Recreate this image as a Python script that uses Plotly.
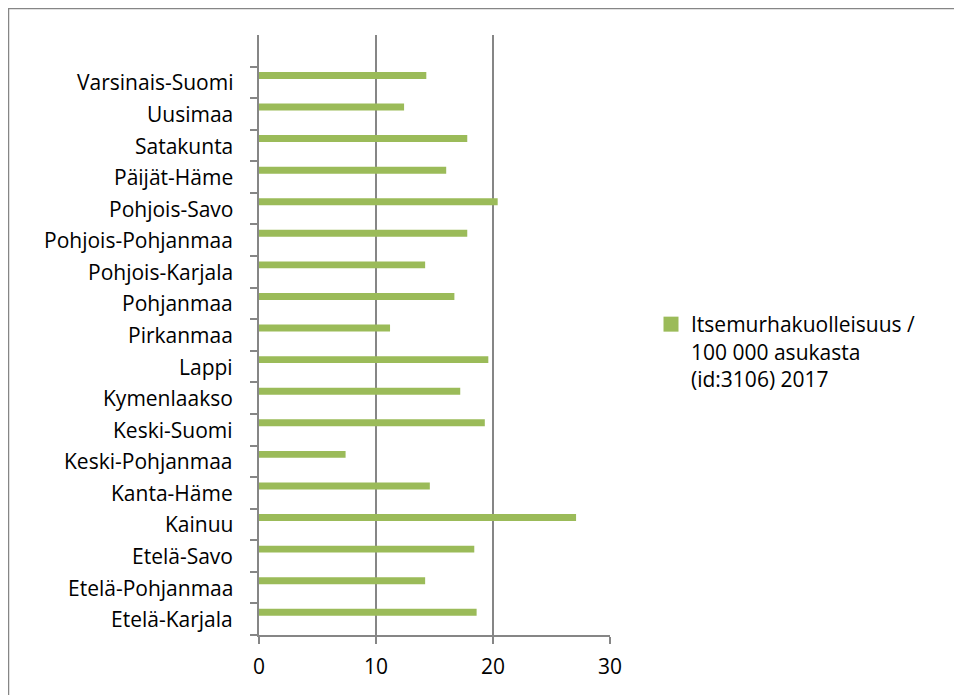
import plotly.graph_objects as go

regions = ["Etelä-Karjala", "Etelä-Pohjanmaa", "Etelä-Savo", "Kainuu", "Kanta-Häme",
           "Keski-Pohjanmaa", "Keski-Suomi", "Kymenlaakso", "Lappi", "Pirkanmaa",
           "Pohjanmaa", "Pohjois-Karjala", "Pohjois-Pohjanmaa", "Pohjois-Savo",
           "Päijät-Häme", "Satakunta", "Uusimaa", "Varsinais-Suomi"]
values = [18.6, 14.2, 18.4, 27.1, 14.6, 7.4, 19.3, 17.2, 19.6, 11.2,
          16.7, 14.2, 17.8, 20.4, 16.0, 17.8, 12.4, 14.3]
series_name = "Itsemurhakuolleisuus /<br>100 000 asukasta<br>(id:3106) 2017"
x_ticks = [0, 10, 20, 30]

GRID = "#868686"
BAR = "#9BBB59"
FONT = "Open Sans"
FS = 21

# plot area in figure pixels
L, T, PW, PH = 251, 27, 351, 600
W, H = 962, 695

fig = go.Figure()
fig.add_trace(go.Bar(
    y=regions, x=values, orientation="h", name=series_name,
    marker=dict(color=BAR, line=dict(width=0)),
    width=0.22, offset=0.11, showlegend=False,
))
# legend entry (larger square swatch as in the original)
fig.add_trace(go.Scatter(
    x=[None], y=[None], mode="markers", name=series_name,
    marker=dict(symbol="square", size=15, color=BAR), showlegend=True,
))

fig.update_layout(
    width=W, height=H,
    margin=dict(l=L, r=W - L - PW, t=T, b=H - T - PH),
    paper_bgcolor="white", plot_bgcolor="white",
    font=dict(family=FONT, size=FS, color="black"),
    showlegend=True,
    legend=dict(x=(643 - L) / PW, y=(T + PH - 296) / PH, xanchor="left", yanchor="top",
                font=dict(family=FONT, size=FS, color="black"),
                bgcolor="rgba(0,0,0,0)", itemwidth=30, valign="top"),
    xaxis=dict(range=[0, 30], tickvals=x_ticks, ticktext=[str(v) for v in x_ticks],
               showgrid=True, gridcolor=GRID, gridwidth=1.5,
               showline=True, linecolor=GRID, linewidth=1.5,
               ticks="outside", ticklen=7, tickcolor=GRID, tickwidth=1.5,
               ticklabelstandoff=5,
               zeroline=False, tickfont=dict(family=FONT, size=FS), fixedrange=True),
    yaxis=dict(categoryorder="array", categoryarray=regions,
               range=[-0.5, 18.5], showgrid=False,
               showline=True, linecolor=GRID, linewidth=1.5,
               ticks="outside", ticklen=7, tickcolor=GRID, tickwidth=1.5,
               tickmode="array", tickvals=[i - 0.5 for i in range(19)],
               ticktext=[""] * 19, zeroline=False),
)

# category labels centred on each category
for r in regions:
    fig.add_annotation(x=0, y=r, xref="paper", yref="y", text=r, showarrow=False,
                       xanchor="right", yanchor="middle", xshift=-24,
                       font=dict(family=FONT, size=FS, color="black"))

# outer chart border
fig.add_shape(type="rect", xref="paper", yref="paper",
              x0=(0.5 - L) / PW, x1=(947 - L) / PW,
              y0=(T + PH - 710) / PH, y1=(T + PH - 0.5) / PH,
              line=dict(color=GRID, width=1.5), layer="below")

fig.write_html("out.html")
